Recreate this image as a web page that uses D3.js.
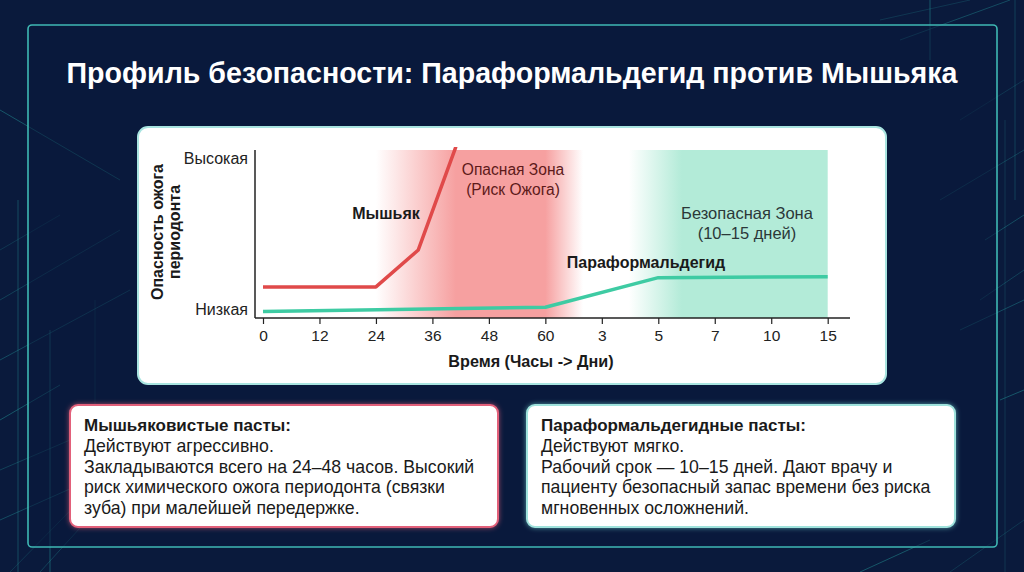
<!DOCTYPE html>
<html><head><meta charset="utf-8">
<script src="https://cdn.jsdelivr.net/npm/d3@7"></script>
<style>
html,body{margin:0;padding:0;background:#0a1a3c;}
svg{display:block;}
text{font-family:"Liberation Sans",Arial,sans-serif;}
</style></head>
<body>
<svg id="chart" width="1024" height="572"></svg>
<script>
// ---------- DATA ----------
const title = "Профиль безопасности: Параформальдегид против Мышьяка";
// x positions in hours; labels shown as hours then days
const timeHours = [0, 12, 24, 36, 48, 60, 72, 120, 168, 240, 360];
const timeLabels = ["0", "12", "24", "36", "48", "60", "3", "5", "7", "10", "15"];
const riskLevels = ["Низкая", "Высокая"];
const riskLevelValues = [5, 95];
// risk (0..100) of periodontal burn over time
const arsenicHours = [0, 24, 33, 41];
const arsenicRisk = [18.5, 18.5, 40.5, 102];
const paraHours = [0, 60, 120, 360];
const paraRisk = [3.8, 6.4, 24, 24.6];
// zones (hours)
const dangerZone = {start: 24, full: 41, fullEnd: 60, end: 68};
const safeZone = {start: 95, full: 140, end: 360};
const yTitle = ["Опасность ожога", "периодонта"];
const xTitle = "Время (Часы -> Дни)";
const arsenicLabel = "Мышьяк";
const paraLabel = "Параформальдегид";
const dangerLabel = ["Опасная Зона", "(Риск Ожога)"];
const safeLabel = ["Безопасная Зона", "(10–15 дней)"];
const leftCard = ["Мышьяковистые пасты:", "Действуют агрессивно.", "Закладываются всего на 24–48 часов. Высокий", "риск химического ожога периодонта (связки", "зуба) при малейшей передержке."];
const rightCard = ["Параформальдегидные пасты:", "Действуют мягко.", "Рабочий срок — 10–15 дней. Дают врачу и", "пациенту безопасный запас времени без риска", "мгновенных осложнений."];

// ---------- SETUP ----------
const svg = d3.select("#chart");
const W = 1024, H = 572;
const defs = svg.append("defs");

// background
svg.append("rect").attr("width", W).attr("height", H).attr("fill", "#0a1a3c");

// decorative circuit lines
const deco = svg.append("g").attr("stroke", "#2bb5b0").attr("fill", "none").attr("stroke-width", 1);
const decoLines = [
  [0,250,60,215],[0,300,120,230],[0,360,130,290],[0,420,60,385],[10,572,110,470],[40,572,160,440],
  [18,200,18,572],[50,330,50,572],[95,300,95,500],[0,470,70,440],[0,520,90,480],[120,180,0,110],
  [960,120,1024,80],[940,200,1024,150],[900,40,1010,0],[930,60,930,0],[1005,120,1005,572],
  [980,300,1024,270],[960,330,1024,300],[1000,400,1024,390],[880,20,970,0],[1015,0,1015,200],
  [985,240,1024,215],[860,572,930,540],[950,572,1024,520]
];
deco.selectAll("line").data(decoLines).join("line")
  .attr("x1", d => d[0]).attr("y1", d => d[1]).attr("x2", d => d[2]).attr("y2", d => d[3])
  .attr("opacity", (d, i) => 0.18 + (i % 4) * 0.07);

// outer frame
svg.append("rect").attr("x", 28).attr("y", 25).attr("width", 969).attr("height", 522)
  .attr("rx", 4).attr("fill", "#0a1a3c").attr("fill-opacity", 0.55)
  .attr("stroke", "#3fb8b4").attr("stroke-width", 1.6);

// title
svg.append("text").attr("x", 512).attr("y", 83).attr("text-anchor", "middle")
  .attr("fill", "#ffffff").attr("font-size", 28.6).attr("font-weight", "bold").text(title);

// chart panel
svg.append("rect").attr("x", 138).attr("y", 127).attr("width", 748).attr("height", 257)
  .attr("rx", 10).attr("fill", "#ffffff").attr("stroke", "#a8e4e0").attr("stroke-width", 2);

// scales
const x0 = 263, step = (827.7 - 263) / 10;
const x = d3.scaleLinear().domain(timeHours).range(timeHours.map((d, i) => x0 + i * step));
const y = d3.scaleLinear().domain([0, 100]).range([318, 150]);
const plotLeft = 255, plotRight = 850;

// zones gradients
function hgrad(id, color, zone) {
  const g = defs.append("linearGradient").attr("id", id).attr("gradientUnits", "userSpaceOnUse")
    .attr("x1", x(zone.start)).attr("x2", x(zone.end)).attr("y1", 0).attr("y2", 0);
  const span = x(zone.end) - x(zone.start);
  const stops = [[zone.start, 0], [zone.full, 1]];
  if (zone.fullEnd !== undefined) stops.push([zone.fullEnd, 1], [zone.end, 0]);
  else stops.push([zone.end, 1]);
  stops.forEach(s => g.append("stop").attr("offset", (x(s[0]) - x(zone.start)) / span)
    .attr("stop-color", color).attr("stop-opacity", s[1]));
}
hgrad("dangerGrad", "#f6a0a0", dangerZone);
hgrad("safeGrad", "#b3ebd8", safeZone);

svg.append("rect").attr("x", x(dangerZone.start)).attr("y", y(100))
  .attr("width", x(dangerZone.end) - x(dangerZone.start)).attr("height", y(0) - y(100))
  .attr("fill", "url(#dangerGrad)");
svg.append("rect").attr("x", x(safeZone.start)).attr("y", y(100))
  .attr("width", x(safeZone.end) - x(safeZone.start)).attr("height", y(0) - y(100))
  .attr("fill", "url(#safeGrad)");

// zone labels
const dz = svg.append("text").attr("text-anchor", "middle").attr("fill", "#5e1a1a").attr("font-size", 15.6);
dangerLabel.forEach((t, i) => dz.append("tspan").attr("x", 513).attr("y", 175 + i * 20).text(t));
const sz = svg.append("text").attr("text-anchor", "middle").attr("fill", "#2b3838").attr("font-size", 16.5);
safeLabel.forEach((t, i) => sz.append("tspan").attr("x", 747).attr("y", 219 + i * 20).text(t));

// clip
defs.append("clipPath").attr("id", "plotClip").append("rect")
  .attr("x", plotLeft).attr("y", 147).attr("width", plotRight - plotLeft).attr("height", 175);

// lines
const line = d3.line().x(d => x(d[0])).y(d => y(d[1]));
svg.append("path").datum(arsenicHours.map((h, i) => [h, arsenicRisk[i]]))
  .attr("d", line).attr("fill", "none").attr("stroke", "#e04a4a").attr("stroke-width", 3.5)
  .attr("stroke-linejoin", "round").attr("clip-path", "url(#plotClip)");
svg.append("path").datum(paraHours.map((h, i) => [h, paraRisk[i]]))
  .attr("d", line).attr("fill", "none").attr("stroke", "#3ecba3").attr("stroke-width", 3.5)
  .attr("stroke-linejoin", "round").attr("clip-path", "url(#plotClip)");

// series labels
svg.append("text").attr("x", 386).attr("y", 219).attr("text-anchor", "middle")
  .attr("font-weight", "bold").attr("font-size", 16).attr("fill", "#1a1a1a").text(arsenicLabel);
svg.append("text").attr("x", 646).attr("y", 268).attr("text-anchor", "middle")
  .attr("font-weight", "bold").attr("font-size", 16).attr("fill", "#1a1a1a").text(paraLabel);

// axes
const xAxis = d3.axisBottom(x).tickValues(timeHours).tickFormat((d, i) => timeLabels[i]).tickSize(6).tickSizeOuter(0);
const gx = svg.append("g").attr("transform", `translate(0,${y(0)})`).call(xAxis);
gx.select(".domain").remove();
gx.append("line").attr("x1", plotLeft).attr("x2", plotRight).attr("stroke", "#222").attr("stroke-width", 1.5);
gx.selectAll(".tick line").attr("stroke", "#222").attr("stroke-width", 1.2);
gx.selectAll(".tick text").attr("font-size", 15.5).attr("fill", "#222").attr("dy", "0.9em")
  .style("font-family", '"Liberation Sans",Arial,sans-serif');

const yAxis = d3.axisLeft(y).tickValues(riskLevelValues).tickFormat((d, i) => riskLevels[i]).tickSize(0).tickPadding(7);
const gy = svg.append("g").attr("transform", `translate(${plotLeft},0)`).call(yAxis);
gy.select(".domain").remove();
gy.append("line").attr("y1", y(0)).attr("y2", y(100)).attr("stroke", "#222").attr("stroke-width", 1.5);
gy.selectAll(".tick text").attr("font-size", 16).attr("fill", "#222")
  .style("font-family", '"Liberation Sans",Arial,sans-serif');

// axis titles
const yt = svg.append("text").attr("transform", "rotate(-90)")
  .attr("text-anchor", "middle").attr("font-weight", "bold").attr("font-size", 16).attr("fill", "#1a1a1a");
yTitle.forEach((t, i) => yt.append("tspan").attr("x", -232).attr("y", 163 + i * 17).text(t));
svg.append("text").attr("x", 531).attr("y", 367).attr("text-anchor", "middle")
  .attr("font-weight", "bold").attr("font-size", 16.2).attr("fill", "#1a1a1a").text(xTitle);

// cards
defs.append("filter").attr("id", "glowR").attr("x", -0.1).attr("y", -0.2).attr("width", 1.2).attr("height", 1.4)
  .append("feDropShadow").attr("dx", 0).attr("dy", 0).attr("stdDeviation", 2.5).attr("flood-color", "#ff6b80").attr("flood-opacity", 0.6);
defs.append("filter").attr("id", "glowT").attr("x", -0.1).attr("y", -0.2).attr("width", 1.2).attr("height", 1.4)
  .append("feDropShadow").attr("dx", 0).attr("dy", 0).attr("stdDeviation", 2.5).attr("flood-color", "#7fe8e0").attr("flood-opacity", 0.6);

function card(cx, lines, stroke, filt) {
  svg.append("rect").attr("x", cx).attr("y", 405).attr("width", 428).attr("height", 122).attr("rx", 8)
    .attr("fill", "#ffffff").attr("stroke", stroke).attr("stroke-width", 2).attr("filter", filt);
  const t = svg.append("text").attr("fill", "#1a1a1a");
  lines.forEach((s, i) => t.append("tspan").attr("x", cx + 14).attr("y", 431 + i * 20.8)
    .attr("font-weight", i === 0 ? "bold" : "normal").attr("font-size", i === 0 ? 17 : 17.7).text(s));
}
card(70, leftCard, "#e2607a", "url(#glowR)");
card(527, rightCard, "#9fe2dc", "url(#glowT)");
</script>
</body></html>
